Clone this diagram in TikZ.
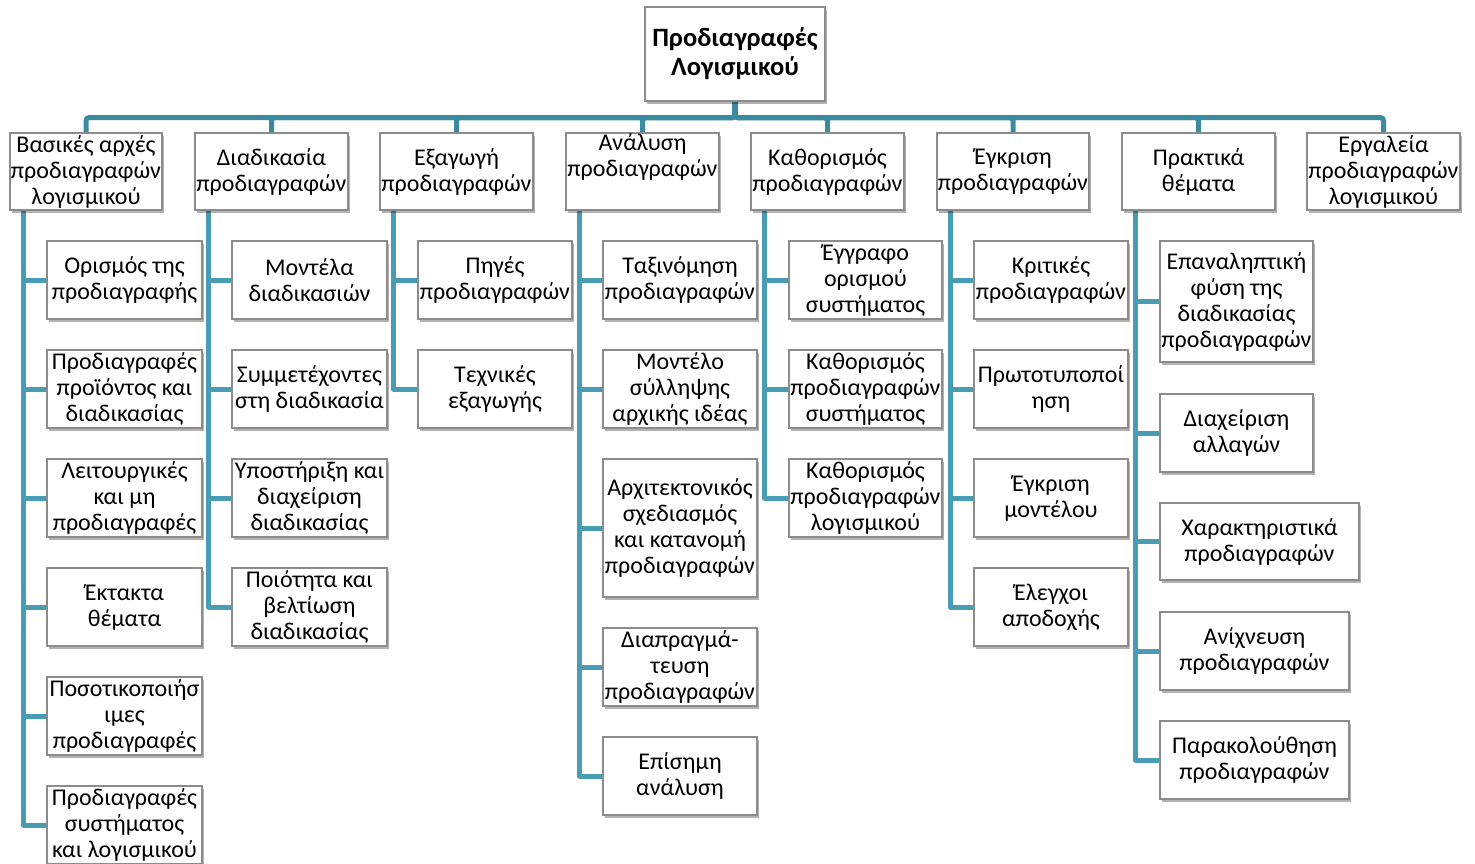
\documentclass[tikz,border=0pt]{standalone}
\usepackage{fontspec}
\setmainfont{Carlito}
\usetikzlibrary{shadows,backgrounds}

\definecolor{busline}{RGB}{58,138,160}
\definecolor{branchline}{RGB}{72,156,180}
\definecolor{boxedge}{RGB}{140,140,140}

\tikzset{
  box/.style={draw=boxedge, line width=1.3pt, fill=white, inner sep=0pt,
    align=center, font=\fontsize{24}{26}\selectfont,
    drop shadow={shadow xshift=2pt, shadow yshift=-3pt, opacity=0.3, fill=black}},
  rootbox/.style={box, font=\fontsize{26.5}{29}\selectfont\bfseries},
  bus/.style={draw=busline, line width=5pt, rounded corners=3pt},
  branch/.style={draw=branchline, line width=5pt, line join=round},
}

% box from its corners (left, top, right, bottom) in pixel units
\newcommand{\bx}[7][box]{%
  \node[#1, minimum width={(#5-#3)*1pt}, minimum height={(#6-#4)*1pt}]
    (#2) at ({(#3+#5)/2},{(#4+#6)/2}) {#7};}

% elbow connector from the left edge of a top-level box to a child
\newcommand{\kid}[2]{\draw[branch] ([xshift=14pt]#1.south west) |- (#2.west);}

\begin{document}
\begin{tikzpicture}[x=1pt,y=-1pt]
\useasboundingbox (0,0) rectangle (1475,863);

% root
\bx[rootbox]{root}{645}{7}{825}{101}{Προδιαγραφές\\Λογισμικού}

% top-level topics
\bx{b1}{10}{133}{162}{210}{Βασικές αρχές\\προδιαγραφών\\λογισμικού}
\bx{b2}{195}{133}{348}{210}{Διαδικασία\\προδιαγραφών}
\bx{b3}{380}{133}{533}{210}{Εξαγωγή\\προδιαγραφών}
\bx{b4}{566}{133}{719}{210}{Ανάλυση\\προδιαγραφών\\\strut}
\bx{b5}{751}{133}{904}{210}{Καθορισμός\\προδιαγραφών}
\bx{b6}{937}{133}{1089}{210}{Έγκριση\\προδιαγραφών}
\bx{b7}{1122}{133}{1275}{210}{Πρακτικά\\θέματα}
\bx{b8}{1307}{133}{1460}{210}{Εργαλεία\\προδιαγραφών\\λογισμικού}

% basics
\bx{c11}{47}{241}{202}{319}{Ορισμός της\\προδιαγραφής}
\bx{c12}{47}{350}{202}{428}{Προδιαγραφές\\προϊόντος και\\διαδικασίας}
\bx{c13}{47}{459}{202}{537}{Λειτουργικές\\και μη\\προδιαγραφές}
\bx{c14}{47}{568}{202}{646}{Έκτακτα\\θέματα}
\bx{c15}{47}{677}{202}{755}{Ποσοτικοποιήσ\\ιμες\\προδιαγραφές}
\bx{c16}{47}{786}{202}{864}{Προδιαγραφές\\συστήματος\\και λογισμικού}

% process
\bx{c21}{232}{241}{387}{319}{Μοντέλα\\διαδικασιών}
\bx{c22}{232}{350}{387}{428}{Συμμετέχοντες\\στη διαδικασία}
\bx{c23}{232}{459}{387}{537}{Υποστήριξη και\\διαχείριση\\διαδικασίας}
\bx{c24}{232}{568}{387}{646}{Ποιότητα και\\βελτίωση\\διαδικασίας}

% elicitation
\bx{c31}{418}{241}{572}{319}{Πηγές\\προδιαγραφών}
\bx{c32}{418}{350}{572}{428}{Τεχνικές\\εξαγωγής}

% analysis
\bx{c41}{603}{241}{757}{319}{Ταξινόμηση\\προδιαγραφών}
\bx{c42}{603}{350}{757}{428}{Μοντέλο\\σύλληψης\\αρχικής ιδέας}
\bx{c43}{603}{459}{757}{597}{Αρχιτεκτονικός\\σχεδιασμός\\και κατανομή\\προδιαγραφών}
\bx{c44}{603}{628}{757}{706}{Διαπραγμά-\\τευση\\προδιαγραφών}
\bx{c45}{603}{737}{757}{815}{Επίσημη\\ανάλυση}

% specification
\bx{c51}{789}{241}{942}{319}{Έγγραφο\\ορισμού\\συστήματος}
\bx{c52}{789}{350}{942}{428}{Καθορισμός\\προδιαγραφών\\συστήματος}
\bx{c53}{789}{459}{942}{537}{Καθορισμός\\προδιαγραφών\\λογισμικού}

% validation
\bx{c61}{974}{241}{1128}{319}{Κριτικές\\προδιαγραφών}
\bx{c62}{974}{350}{1128}{428}{Πρωτοτυποποί\\ηση}
\bx{c63}{974}{459}{1128}{537}{Έγκριση\\μοντέλου}
\bx{c64}{974}{568}{1128}{646}{Έλεγχοι\\αποδοχής}

% practical issues
\bx{c71}{1160}{241}{1313}{362}{Επαναληπτική\\φύση της\\διαδικασίας\\προδιαγραφών}
\bx{c72}{1160}{394}{1313}{472}{Διαχείριση\\αλλαγών}
\bx{c73}{1160}{503}{1359}{580}{Χαρακτηριστικά\\προδιαγραφών}
\bx{c74}{1160}{612}{1349}{690}{Ανίχνευση\\προδιαγραφών}
\bx{c75}{1160}{721}{1349}{799}{Παρακολούθηση\\προδιαγραφών}

\begin{scope}[on background layer]
  % bus from the root to every topic
  \foreach \b in {b1,b2,b3,b4,b5,b6,b7,b8}
    {\draw[bus] (root.south) -- ++(0,16) -| (\b.north);}
  % children of each topic
  \foreach \c in {c11,c12,c13,c14,c15,c16} {\kid{b1}{\c}}
  \foreach \c in {c21,c22,c23,c24} {\kid{b2}{\c}}
  \foreach \c in {c31,c32} {\kid{b3}{\c}}
  \foreach \c in {c41,c42,c43,c44,c45} {\kid{b4}{\c}}
  \foreach \c in {c51,c52,c53} {\kid{b5}{\c}}
  \foreach \c in {c61,c62,c63,c64} {\kid{b6}{\c}}
  \foreach \c in {c71,c72,c73,c74,c75} {\kid{b7}{\c}}
\end{scope}
\end{tikzpicture}
\end{document}
